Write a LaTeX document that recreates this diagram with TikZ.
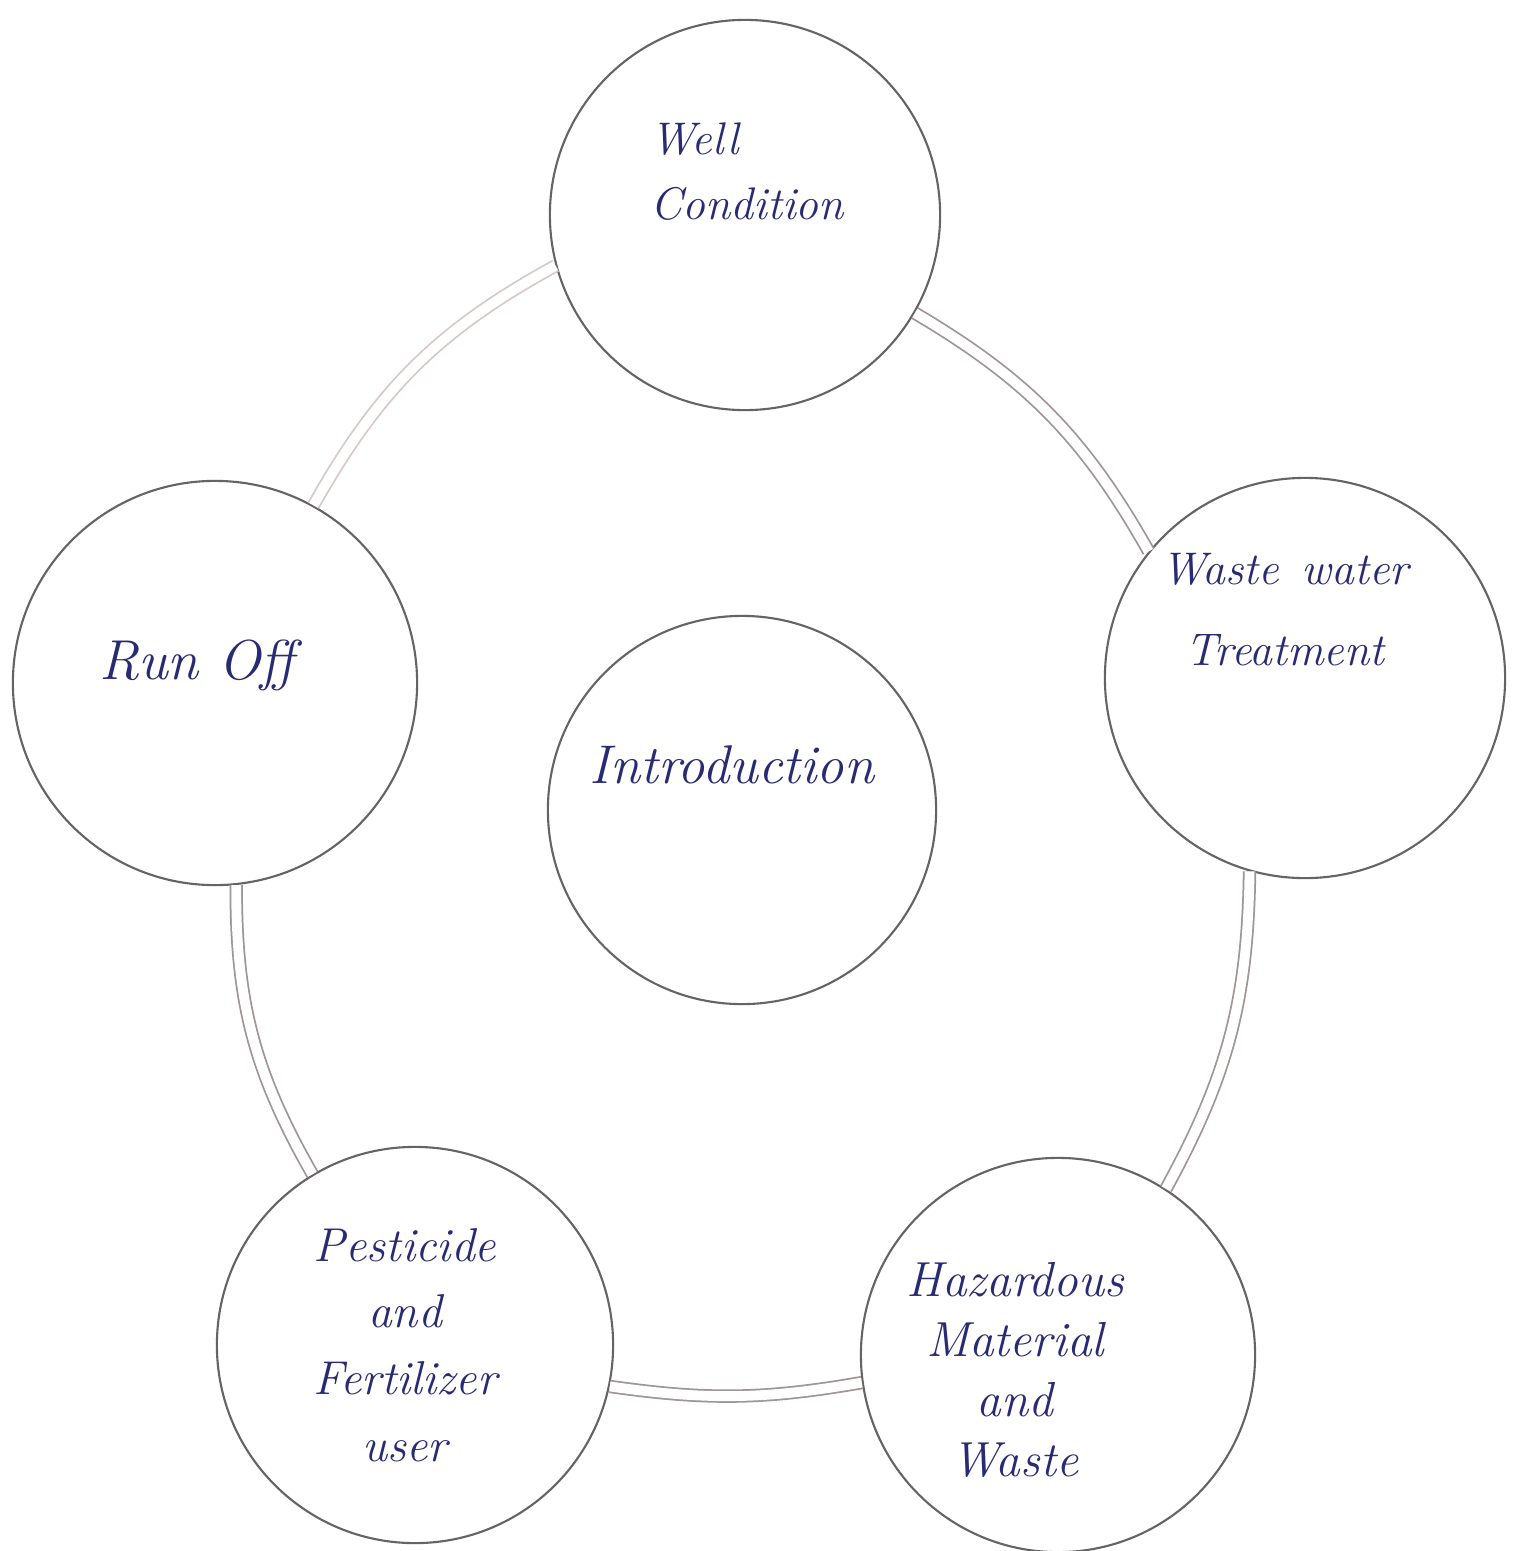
\documentclass[tikz,border=0pt]{standalone}
\usepackage{fontspec}
\definecolor{circ}{RGB}{100,100,100}
\definecolor{linkc}{RGB}{160,148,148}
\definecolor{linkfaint}{RGB}{215,200,200}
\definecolor{inkc}{RGB}{40,42,115}
\begin{document}
\begin{tikzpicture}[x=0.01cm,y=-0.01cm,
  bubble/.style={circle, draw=circ, line width=0.6pt, fill=white, inner sep=0pt},
  link/.style={draw=linkc, line width=0.5pt, double=white, double distance=2.8pt},
  ink/.style={text=inkc, font=\fontsize{14}{19}\selectfont\itshape, align=center, inner sep=0pt}]
\fill[white] (0,0) rectangle (1516,1551);
\useasboundingbox (0,0) rectangle (1516,1551);

% circles
\node[bubble, minimum size=3.9cm] (well)  at (745,215)  {};
\node[bubble, minimum size=4.0cm] (waste) at (1305,678) {};
\node[bubble, minimum size=3.94cm] (haz)  at (1058,1355) {};
\node[bubble, minimum size=3.96cm] (pest) at (415,1345) {};
\node[bubble, minimum size=4.04cm] (run)  at (215,683)  {};
\node[bubble, minimum size=3.88cm] (intro) at (742,810) {};

% texts
\node[ink, align=left, anchor=west, font=\fontsize{13}{18.5}\selectfont\itshape] (wellT) at (650,172) {Well\\Condition};
\node[ink, font=\fontsize{13}{23}\selectfont\itshape] (wasteT) at (1285,610) {Waste\enspace water\\Treatment};
\node[ink, font=\fontsize{16}{19}\selectfont\itshape] (runT) at (197,665) {Run Off};
\node[ink, font=\fontsize{15.5}{19}\selectfont\itshape] (introT) at (732,765) {Introduction};
\node[ink, font=\fontsize{13.5}{19}\selectfont\itshape] (pestT) at (405,1345) {Pesticide\\and\\Fertilizer\\user};
\node[ink, font=\fontsize{14}{17}\selectfont\itshape] (hazT) at (1015,1370) {Hazardous\\Material\\and\\Waste};

% connectors
\draw[link] (well.-30) to[bend left=15] (waste.141);
\draw[link] (waste.-106) to[bend left=14] (haz.57);
\draw[link] (haz.-172) to[bend left=9] (pest.-12);
\draw[link] (pest.121) to[bend left=15] (run.-84);
\draw[link, draw=linkfaint] (run.61) to[bend left=16] (well.-165);
\end{tikzpicture}
\end{document}
